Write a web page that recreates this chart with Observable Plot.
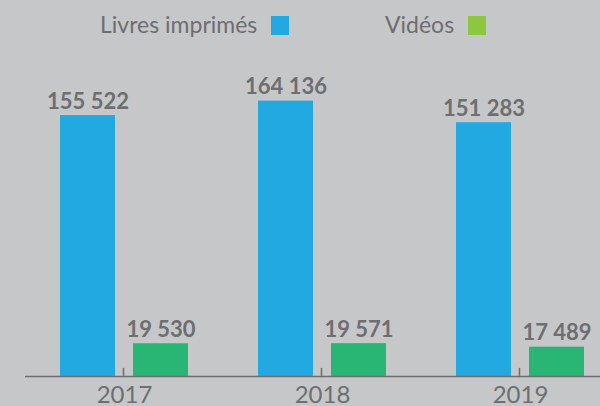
<!DOCTYPE html>
<html><head><meta charset="utf-8">
<script src="https://cdn.jsdelivr.net/npm/d3@7"></script>
<script src="https://cdn.jsdelivr.net/npm/@observablehq/plot@0.6"></script>
<style>
html,body{margin:0;padding:0;background:#c6c7c8;overflow:hidden;width:600px;height:406px;}
#legend{position:relative;height:50px;font-family:Lato,sans-serif;font-size:23px;color:#6d6e71;}
.item{position:absolute;top:10px;display:flex;align-items:center;white-space:nowrap;}
.item:nth-child(1){left:100px;}
.item:nth-child(2){left:385px;}
.sw{display:inline-block;width:18px;height:19px;margin-left:14px;position:relative;top:1px;}
#chart svg{display:block;}
</style></head><body>
<div id="legend"></div><div id="chart"></div>
<script>
const years = ["2017", "2018", "2019"];
const series = ["Livres imprimés", "Vidéos"];
const livres = [155522, 164136, 151283];
const videos = [19530, 19571, 17489];
const barColors = ["#23a9e1", "#29b674"];
const legendColors = ["#23a9e1", "#8dc63f"];

const rows = years.flatMap((y, i) => [
  {year: y, series: series[0], value: livres[i]},
  {year: y, series: series[1], value: videos[i]}
]);
const fmt = d3.formatLocale({thousands: " ", grouping: [3], decimal: ","}).format(",d");

const legend = document.getElementById("legend");
series.forEach((s, i) => {
  const item = document.createElement("div");
  item.className = "item";
  const t = document.createElement("span");
  t.textContent = s;
  const sw = document.createElement("span");
  sw.className = "sw";
  sw.style.background = legendColors[i];
  item.appendChild(t); item.appendChild(sw);
  legend.appendChild(item);
});

const tickUp = {draw(context, l) { context.moveTo(0, 0); context.lineTo(0, -l); }};

const chart = Plot.plot({
  width: 600, height: 356,
  marginTop: 24, marginBottom: 30, marginLeft: 25, marginRight: 0,
  style: {background: "transparent", fontFamily: "Lato, sans-serif", overflow: "visible"},
  fx: {domain: years, range: [25, 619], padding: 0, label: null},
  x: {domain: series, paddingInner: 0.2432, paddingOuter: 0.4595, axis: null},
  y: {domain: [0, 180000], axis: null},
  color: {domain: series, range: barColors},
  marks: [
    Plot.barY(rows, {fx: "year", x: "series", y: "value", fill: "series"}),
    Plot.ruleY([0], {stroke: "#6d6e71", strokeWidth: 1.5}),
    Plot.vector(years, {fx: d => d, frameAnchor: "bottom", length: 8, anchor: "start",
      shape: tickUp, stroke: "#6d6e71", strokeWidth: 1.5, dx: -1}),
    Plot.text(rows, {fx: "year", x: "series", y: "value", text: d => fmt(d.value),
      lineAnchor: "bottom", dy: -7, fill: "#6d6e71", fontSize: 22, fontWeight: "bold"}),
    Plot.axisFx({anchor: "bottom", tickSize: 0, tickPadding: 9, fontSize: 24,
      color: "#6d6e71", label: null})
  ]
});
document.getElementById("chart").appendChild(chart);
</script>
</body></html>
